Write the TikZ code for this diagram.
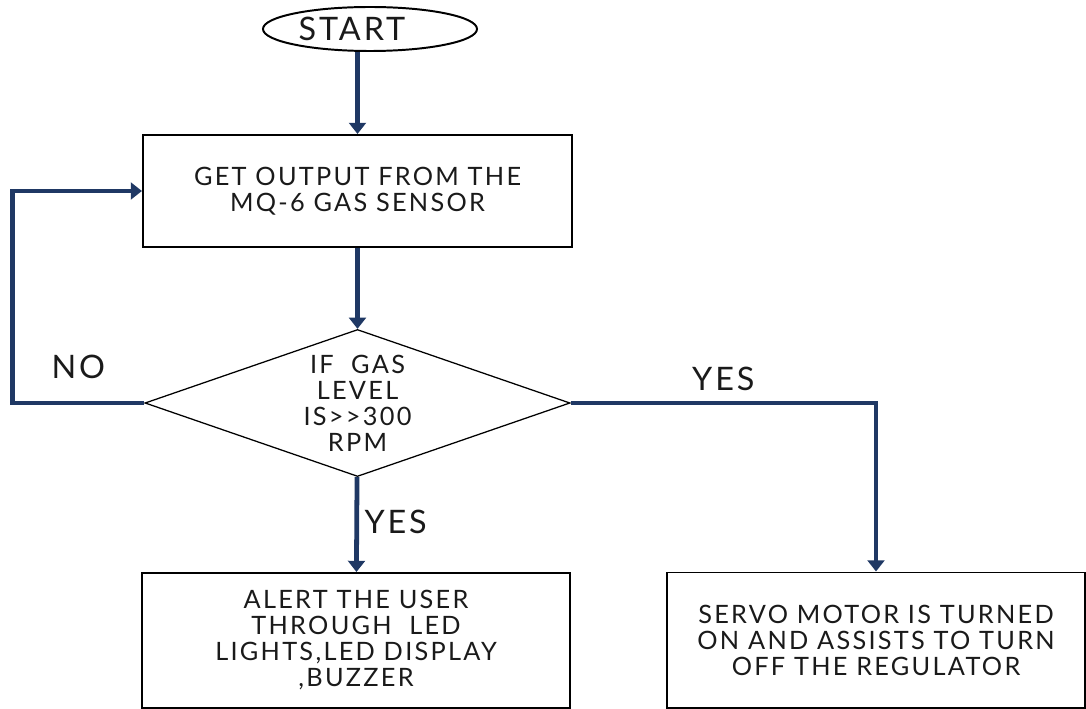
\documentclass[tikz,border=0pt]{standalone}
\usepackage{fontspec}
\setmainfont{Lato}[LetterSpace=9]
\usetikzlibrary{arrows.meta,positioning,shapes.geometric}
\definecolor{flowline}{HTML}{1F3864}
\definecolor{inktext}{HTML}{1A1A1A}

\begin{document}
\begin{tikzpicture}[x=0.025cm,y=-0.025cm,
  box/.style={draw,line width=1.4pt,align=center,text=inktext,inner sep=0pt,
    font=\fontsize{18}{18.5}\selectfont},
  flow/.style={flowline,line width=3.4pt,-{Triangle[length=0.28cm,width=0.42cm]}},
  lbl/.style={font=\fontsize{23}{26}\selectfont,text=inktext,inner sep=1pt}]
\useasboundingbox (0,0) rectangle (1086,709);
% blocks
\node[box,ellipse,minimum width=5.35cm,minimum height=1.1cm,font=\fontsize{23}{26}\selectfont] (start) at (370,29) {START\hspace{0.9cm}};
\node[box,minimum width=10.725cm,minimum height=2.8cm] (sensor) at (357.5,191) {GET OUTPUT FROM THE\\MQ-6 GAS SENSOR};
\node[box,diamond,aspect=2.9,line width=0.9pt,minimum width=10.625cm,minimum height=3.675cm] (check) at (357.5,403) {IF~~GAS\\LEVEL\\IS>{}>300\\RPM};
\node[box,minimum width=10.7cm,minimum height=3.375cm] (alert) at (356,640.5) {ALERT THE USER\\THROUGH~~LED\\LIGHTS,LED DISPLAY\\,BUZZER};
\node[box,minimum width=10.45cm,minimum height=3.375cm] (servo) at (876,640) {SERVO MOTOR IS TURNED\\ON AND ASSISTS TO TURN\\OFF THE REGULATOR};
% connectors
\draw[flow] (start.south -| sensor.north) -- (sensor.north);
\draw[flow] (sensor) -- (check);
\draw[flow] (check) -- node[lbl,right=0.1cm,pos=0.47]{YES} (alert);
\draw[flow] (check.east) -- node[lbl,above=0.2cm]{YES} (check.east -| servo.north) -- (servo.north);
\draw[flow] (check.west) -- node[lbl,above=0.5cm]{NO} ++(-132,0) |- (sensor.west);
\end{tikzpicture}
\end{document}
